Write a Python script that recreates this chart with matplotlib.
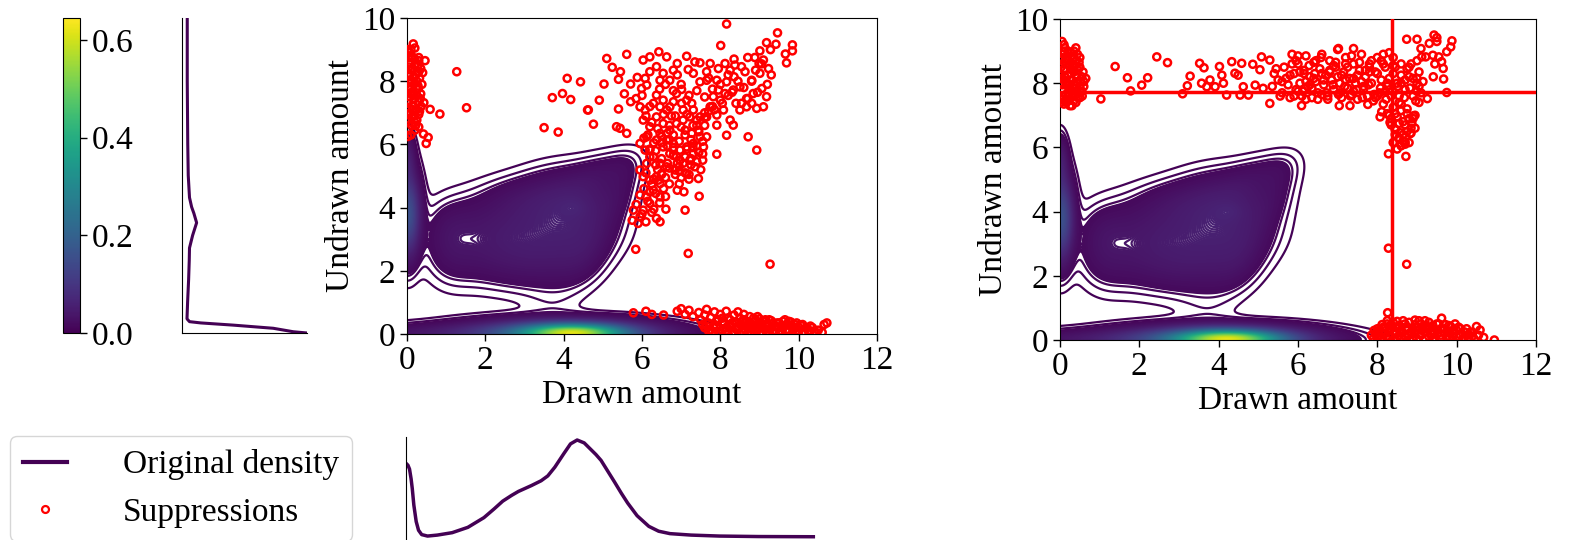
import numpy as np
import matplotlib
matplotlib.use("Agg")
import matplotlib.pyplot as plt
from matplotlib.colors import Normalize
from matplotlib.cm import ScalarMappable
from matplotlib.lines import Line2D

plt.rcParams['font.family'] = ['Liberation Serif', 'DejaVu Serif']
plt.rcParams['font.size'] = 24

# ---------------- data ----------------
# Gaussian-mixture description of the "original density" (KDE look-alike)
comp_mx  = [4.25, 4.0, 2.0, 0.0, 0.0,
            1.1, 1.1, 1.9, 1.9, 2.8, 2.8, 2.8, 3.7, 3.7, 3.7, 4.5, 4.5, 4.5, 4.9, 5.4, 5.5,
            4.3, 3.3, 3.7]
comp_my  = [0.0, 0.0, 0.0, 3.8, 5.6,
            2.6, 3.4, 2.5, 3.5, 2.4, 3.4, 4.3, 2.3, 3.3, 4.3, 2.5, 3.4, 4.4, 5.1, 4.5, 5.3,
            4.0, 3.6, 0.95]
comp_sx  = [0.85, 1.5, 2.5, 0.2, 0.12,
            0.45, 0.45, 0.65, 0.65, 0.65, 0.65, 0.65, 0.65, 0.65, 0.65, 0.45, 0.65, 0.65, 0.5,
            0.4, 0.35, 0.25, 1.8, 0.5]
comp_sy  = [0.18, 0.27, 0.2, 0.85, 0.5,
            0.7, 0.6, 0.65, 0.65, 0.65, 0.65, 0.45, 0.65, 0.65, 0.6, 0.65, 0.65, 0.6, 0.45,
            0.7, 0.4, 0.2, 1.3, 0.4]
comp_rho = [0.0, 0.0, 0.0, 0.0, 0.0,
            0.0, 0.0, 0.0, 0.0, 0.0, 0.0, 0.0, 0.0, 0.0, 0.0, 0.3, 0.0, 0.0, 0.4, 0.6, 0.3,
            0.0, 0.4, 0.0]
comp_amp = [0.40, 0.20, 0.035, 0.16, 0.04,
            0.014, 0.012, 0.015, 0.015, 0.017, 0.018, 0.012, 0.018, 0.021, 0.021, 0.016, 0.022,
            0.022, 0.012, 0.011, 0.007,
            0.007, 0.002, 0.004]
density_max = 0.645

# marginal densities (relative)
margx_x = [0.0, 0.05, 0.09, 0.13, 0.16, 0.2, 0.26, 0.32, 0.4, 0.55, 0.8, 1.18, 1.58, 1.99,
           2.25, 2.47, 2.7, 2.87, 3.2, 3.45, 3.62, 3.8, 4.03, 4.2, 4.37, 4.55, 4.70, 4.85,
           4.98, 5.15, 5.32, 5.5, 5.66, 5.9, 6.2, 6.45, 6.74, 7.28, 8.0, 9.0, 10.4]
margx_v = [0.76, 0.74, 0.70, 0.60, 0.50, 0.33, 0.16, 0.07, 0.025, 0.01, 0.02, 0.045, 0.10,
           0.20, 0.29, 0.37, 0.43, 0.47, 0.53, 0.58, 0.63, 0.72, 0.86, 0.96, 1.0, 0.97, 0.91,
           0.85, 0.79, 0.68, 0.57, 0.45, 0.35, 0.22, 0.11, 0.06, 0.035, 0.02, 0.01, 0.005, 0.003]
margy_y = [0.0, 0.04, 0.15, 0.25, 0.32, 0.36, 0.45, 1.0, 1.7, 2.3, 2.7, 3.1, 3.5, 3.8,
           4.0, 4.3, 5.0, 6.0, 7.0, 8.0, 9.0, 10.0]
margy_v = [1.0, 0.89, 0.73, 0.41, 0.15, 0.06, 0.04, 0.045, 0.053, 0.058, 0.06, 0.085, 0.117,
           0.095, 0.077, 0.06, 0.05, 0.046, 0.044, 0.042, 0.042, 0.042]

# suppressions, panel 1: upper-right cloud
p1_cloud_x = [8.16, 9.46, 8.01, 9.84, 9.84, 9.66, 9.69, 9.42, 9.18, 9.28, 9.01, 8.88, 9.10, 9.23,
              8.99, 5.61, 5.10, 5.24, 5.45, 5.40, 4.09, 4.43, 5.03, 3.97, 4.18, 4.91, 4.63, 4.76,
              5.40, 5.71, 5.71, 5.88, 6.08, 6.03, 6.20, 6.43, 6.63, 6.90, 7.14, 7.35, 7.48, 7.65,
              7.95, 8.12, 8.37, 8.54, 8.63, 8.35, 8.16, 8.50, 8.33, 8.12, 7.95, 7.82, 7.65, 7.48,
              7.31, 7.18, 7.01, 6.71, 6.54, 6.37, 6.20, 6.12, 5.99, 5.95, 6.08, 6.29, 6.46, 6.63,
              6.80, 7.01, 7.14, 7.31, 7.48, 7.65, 7.91, 8.08, 8.25, 8.50, 8.67, 8.80, 8.93, 9.10,
              9.18, 9.06, 8.84, 8.67, 8.54, 7.91, 8.16, 8.33, 8.71, 8.93, 7.91, 7.55, 7.44, 7.46,
              7.07, 7.10, 6.61, 6.37, 6.46, 5.84, 7.18, 9.27, 6.03, 6.20, 6.37, 6.54, 6.71, 6.88,
              7.05, 7.22, 7.40, 6.46, 6.63, 6.80, 6.97, 7.14, 7.31, 7.48, 6.71, 6.88, 7.05, 7.22,
              7.35, 7.14, 6.97, 6.80, 6.54, 6.37, 6.20, 6.29, 6.46, 6.12, 5.95, 6.03, 6.20, 6.37,
              6.46, 6.29, 6.12, 6.20, 6.03, 5.95, 5.78, 6.46, 6.63, 6.84, 7.31, 7.57, 7.65, 7.44,
              7.27, 6.12, 5.95, 5.35, 5.44, 5.61, 6.50, 6.42, 6.08, 6.71, 6.54, 6.37, 7.05, 7.27,
              6.88, 7.74, 9.01, 8.80, 7.91, 8.25, 7.74, 6.80, 6.46, 3.50, 3.71, 3.86, 4.61,
              6.10, 6.25, 6.40, 6.55, 6.70, 6.85, 7.00, 7.15, 7.30, 7.45, 7.60, 6.15, 6.30, 6.50,
              6.65, 6.80, 6.95, 7.10, 7.25, 7.40, 7.55, 6.20, 6.35, 6.50, 6.65, 6.80, 6.95, 7.10,
              7.25, 7.40, 7.20, 7.00, 6.85, 6.60, 6.40, 6.25, 6.05, 5.95, 6.35, 6.15, 6.55, 6.70,
              5.85, 6.00, 5.90, 6.10, 6.25, 5.75, 7.60, 7.80, 8.00, 8.20, 8.40, 8.60, 8.80, 8.45,
              8.20, 8.00, 7.80, 7.60, 7.40, 7.20, 7.00, 6.80, 6.60, 6.90, 6.45, 8.90, 9.05, 8.70,
              6.20, 6.00, 5.85, 5.55, 7.70, 8.70, 8.95, 9.20, 9.30, 8.35,
              6.05, 6.20, 6.35, 6.50, 6.65, 6.80, 6.95, 7.10, 7.25, 7.40, 7.55, 7.70, 6.10, 6.30,
              6.50, 6.70, 6.90, 7.10, 7.30, 7.50, 6.20, 6.45, 6.70, 6.95, 7.20, 7.45, 6.30, 6.60,
              6.90, 7.15, 6.75, 7.60, 7.85, 8.05, 8.30]
p1_cloud_y = [9.81, 9.53, 9.13, 9.15, 8.96, 8.86, 8.58, 9.17, 9.22, 9.00, 8.96, 8.75, 8.67, 8.40,
              8.56, 8.85, 8.72, 8.44, 8.30, 8.06, 8.09, 7.98, 7.91, 7.61, 7.42, 7.40, 7.09, 6.64,
              7.12, 7.35, 7.91, 8.12, 8.09, 8.67, 8.77, 8.93, 8.77, 8.56, 8.79, 8.61, 8.58, 8.30,
              8.40, 8.56, 8.51, 8.46, 8.30, 8.14, 7.98, 7.82, 7.72, 7.61, 7.72, 7.51, 8.03, 7.98,
              8.25, 8.37, 7.74, 8.03, 8.25, 8.46, 8.30, 7.88, 7.77, 7.19, 7.09, 7.30, 7.19, 7.09,
              7.35, 7.30, 7.40, 7.09, 6.87, 6.87, 6.93, 7.09, 6.77, 7.09, 7.19, 7.30, 7.14, 7.19,
              7.51, 7.77, 7.61, 7.45, 7.30, 6.61, 6.29, 6.61, 6.24, 5.82, 5.69, 5.50, 4.92, 4.36,
              4.50, 3.92, 3.95, 3.66, 3.55, 2.68, 2.55, 2.21, 6.77, 6.56, 6.87, 6.66, 6.45, 6.66,
              6.77, 6.87, 6.77, 6.35, 6.14, 6.03, 5.82, 5.92, 6.03, 6.24, 5.71, 5.61, 5.40, 5.50,
              5.29, 5.08, 5.50, 5.82, 5.92, 6.14, 5.82, 5.61, 5.40, 5.40, 5.19, 4.98, 4.87, 4.98,
              4.76, 4.55, 4.34, 4.13, 3.92, 3.71, 3.92, 4.34, 5.29, 5.19, 5.71, 5.92, 6.24, 6.45,
              6.35, 6.24, 6.03, 6.56, 6.51, 6.35, 5.08, 4.87, 5.82, 7.19, 7.40, 7.56, 7.09, 7.30,
              7.61, 7.19, 8.25, 8.03, 8.03, 8.35, 8.56, 8.35, 8.03, 6.53, 7.48, 6.39, 7.09,
              6.90, 6.70, 6.50, 6.95, 6.60, 6.90, 6.55, 6.95, 6.60, 6.40, 6.60, 6.30, 6.05, 6.25,
              5.95, 6.30, 6.10, 6.30, 6.15, 5.95, 5.70, 5.60, 5.80, 5.55, 5.40, 5.65, 5.30, 5.60,
              5.35, 5.45, 5.05, 4.95, 5.05, 4.95, 5.20, 4.75, 4.60, 4.40, 4.45, 4.20, 4.60, 4.75,
              4.10, 3.80, 3.50, 3.55, 3.85, 3.60, 7.00, 7.20, 7.40, 7.55, 7.30, 7.80, 8.00, 8.00,
              8.20, 7.90, 7.75, 7.50, 7.70, 7.55, 7.90, 7.70, 7.90, 8.20, 7.75, 8.35, 8.55, 8.75,
              7.20, 7.55, 7.45, 7.60, 8.10, 7.45, 7.65, 7.90, 8.20, 8.70,
              6.20, 5.85, 5.35, 5.05, 6.35, 5.90, 5.15, 6.45, 5.55, 6.60, 6.10, 7.05, 5.10, 4.90,
              6.05, 6.15, 5.40, 5.10, 5.90, 5.20, 4.50, 4.15, 5.25, 4.75, 4.90, 5.75, 3.95, 4.35,
              4.55, 5.85, 6.90, 6.85, 7.10, 7.30, 7.65]
# panel 1: left strip
p1_left_x = [0.16, 0.46, 0.40, 0.29, 0.43, 0.59, 0.84, 1.52, 1.27, 0.42, 0.54, 0.49, 0.25,
             0.05, 0.12, 0.20, 0.08, 0.28, 0.15, 0.05, 0.22, 0.32, 0.10, 0.18, 0.04, 0.26, 0.12,
             0.35, 0.07, 0.20, 0.30, 0.03, 0.14, 0.25, 0.08, 0.18, 0.05, 0.30, 0.12, 0.04, 0.20,
             0.10, 0.25, 0.15, 0.06, 0.02, 0.30, 0.38, 0.36, 0.12,
             0.10, 0.22, 0.30, 0.05, 0.18, 0.35, 0.08, 0.28, 0.15, 0.25, 0.05, 0.32, 0.20, 0.10,
             0.30, 0.05, 0.03, 0.10, 0.18, 0.26, 0.34, 0.06, 0.14, 0.22, 0.30, 0.02, 0.10, 0.20]
p1_left_y = [9.18, 8.65, 8.27, 7.77, 7.32, 7.11, 6.96, 7.16, 8.30, 6.33, 6.22, 6.03, 6.77,
             8.90, 8.80, 8.70, 8.55, 8.50, 8.40, 8.25, 8.20, 8.10, 8.05, 7.90, 7.80, 7.75, 7.65,
             7.60, 7.50, 7.45, 7.35, 7.30, 7.20, 7.10, 7.00, 6.90, 6.80, 6.95, 6.60, 6.50, 6.45,
             8.35, 8.00, 7.10, 8.60, 9.00, 8.30, 7.90, 7.20, 6.85,
             8.75, 8.55, 8.75, 8.45, 8.10, 8.40, 7.95, 7.85, 7.55, 7.55, 7.15, 7.05, 6.70, 6.30,
             6.55, 6.95, 7.40, 7.75, 7.60, 8.30, 7.45, 8.15, 6.90, 6.60, 8.65, 6.25, 9.00, 9.05]
# panel 1: bottom cluster
p1_bottom_x = [5.78, 6.10, 6.25, 6.55, 6.90, 7.00, 7.10, 7.20, 7.30, 7.45, 7.50, 7.60, 7.70,
               7.75, 7.85, 7.90, 7.95, 8.00, 8.05, 8.10, 8.15, 8.20, 8.25, 8.30, 8.35, 8.40, 8.45,
               8.50, 8.55, 8.60, 8.65, 8.70, 8.75, 8.80, 8.85, 8.90, 8.95, 9.00, 9.05, 9.10, 9.15,
               9.20, 9.30, 9.35, 9.40, 9.50, 9.55, 9.60, 9.70, 9.75, 9.80, 9.90, 10.00, 10.05,
               10.15, 10.20, 10.30, 10.40, 10.50, 10.65, 10.72, 8.00, 8.50, 9.00, 9.50, 10.00,
               8.25, 8.60, 8.95, 9.25, 9.65, 7.65, 8.45,
               7.80, 7.90, 8.05, 8.15, 8.20, 8.30, 8.40, 8.50, 8.60, 8.70, 8.75, 8.85, 8.90, 9.00,
               9.05, 9.15, 9.20, 9.25, 9.30, 9.40, 9.45, 9.55, 9.60, 9.70, 9.75, 9.85, 9.90, 10.00,
               10.10, 10.25, 10.35, 10.45, 10.60, 7.60, 7.70, 7.55,
               7.65, 7.75, 7.85, 7.95, 8.05, 8.15, 8.25, 8.35, 8.45, 8.55, 8.65, 8.75, 8.85, 8.95,
               9.05, 9.15, 9.25, 9.35, 9.45, 9.55, 9.65, 9.75, 9.85, 9.95, 10.10, 10.30]
p1_bottom_y = [0.67, 0.72, 0.62, 0.60, 0.72, 0.80, 0.62, 0.75, 0.55, 0.68, 0.45, 0.60, 0.35,
               0.52, 0.70, 0.25, 0.45, 0.62, 0.12, 0.35, 0.72, 0.50, 0.22, 0.05, 0.60, 0.38, 0.15,
               0.50, 0.28, 0.05, 0.42, 0.18, 0.55, 0.30, 0.08, 0.45, 0.20, 0.36, 0.05, 0.40, 0.15,
               0.28, 0.42, 0.10, 0.25, 0.35, 0.05, 0.18, 0.30, 0.08, 0.38, 0.20, 0.10, 0.28,
               0.05, 0.18, 0.10, 0.03, 0.12, 0.30, 0.35, 0.00, 0.00, 0.00, 0.00, 0.00,
               0.45, 0.62, 0.55, 0.05, 0.45, 0.78, 0.70,
               0.05, 0.40, 0.50, 0.20, 0.00, 0.35, 0.15, 0.30, 0.45, 0.00, 0.25, 0.50, 0.12, 0.48,
               0.22, 0.30, 0.00, 0.45, 0.22, 0.05, 0.35, 0.25, 0.40, 0.15, 0.30, 0.05, 0.30, 0.22,
               0.02, 0.08, 0.20, 0.05, 0.05, 0.20, 0.10, 0.30,
               0.25, 0.12, 0.30, 0.08, 0.38, 0.10, 0.30, 0.02, 0.25, 0.40, 0.12, 0.38, 0.28, 0.12,
               0.30, 0.45, 0.15, 0.35, 0.20, 0.10, 0.28, 0.40, 0.15, 0.35, 0.30, 0.25]

# suppressions, panel 2: left strip
p2_left_x = [0.05, 0.12, 0.20, 0.08, 0.30, 0.15, 0.40, 0.05, 0.25, 0.50, 0.10, 0.35, 0.20, 0.55,
             0.05, 0.30, 0.45, 0.15, 0.60, 0.25, 0.05, 0.40, 0.15, 0.30, 0.05, 0.20, 0.40, 0.10,
             0.30, 0.50, 0.12, 0.22, 0.35, 0.45, 0.02, 0.50, 0.65, 0.38, 0.08, 0.28,
             0.10, 0.18, 0.35, 0.48, 0.10, 0.28, 0.42, 0.58, 0.15, 0.35, 0.55, 0.22, 0.45, 0.12,
             0.35, 0.25, 0.02, 0.60, 0.05, 0.40,
             0.03, 0.12, 0.20, 0.28, 0.36, 0.44, 0.52, 0.06, 0.16, 0.24, 0.32, 0.40, 0.48, 0.56,
             0.02, 0.10, 0.20, 0.30, 0.40, 0.50]
p2_left_y = [9.30, 9.10, 9.00, 8.90, 8.85, 8.75, 8.70, 8.60, 8.55, 8.50, 8.40, 8.35, 8.25, 8.20,
             8.15, 8.10, 8.00, 7.95, 8.05, 7.85, 7.80, 7.75, 7.65, 7.60, 7.50, 7.45, 7.40, 7.35,
             7.30, 7.55, 8.20, 8.70, 9.00, 8.40, 8.00, 7.90, 8.15, 8.55, 7.60, 8.95,
             9.20, 8.85, 8.80, 8.65, 8.45, 8.30, 8.20, 8.35, 8.05, 7.95, 7.75, 7.70, 7.55, 7.45,
             7.45, 7.30, 7.40, 7.90, 8.75, 9.10,
             8.50, 8.10, 7.60, 8.45, 7.85, 8.90, 8.05, 7.95, 7.40, 8.60, 8.40, 7.65, 8.50, 7.60,
             8.80, 9.00, 8.00, 7.75, 8.05, 8.80]
# panel 2: horizontal band
p2_band_x = [1.03, 1.39, 1.70, 1.78, 2.06, 2.21, 2.44, 2.71, 3.09, 3.21, 3.28, 3.52, 3.63, 3.57,
             3.70, 3.78, 3.91, 4.02, 4.08, 4.12, 4.20, 4.33, 4.41, 4.49, 4.58, 4.54, 4.75, 4.62,
             4.86, 4.92, 5.04, 5.08, 5.12, 5.29, 5.29,
             5.85, 5.90, 5.95, 6.00, 6.05, 6.10, 6.15, 6.20, 6.25, 6.30, 6.35, 6.40, 6.45, 6.50,
             6.55, 6.60, 6.65, 6.70, 6.75, 6.80, 6.85, 6.90, 6.95, 7.00, 7.05, 7.10, 7.15, 7.20,
             7.25, 7.30, 7.35, 7.40, 7.45, 7.50, 7.55, 7.60, 7.65, 7.70, 7.75, 7.80, 7.85, 7.90,
             7.95, 8.00, 8.05, 8.10, 8.15, 8.20, 8.25, 8.30, 8.35, 8.40, 8.45, 8.50, 8.55, 8.60,
             8.65, 8.70, 8.75, 8.80, 8.85, 8.90, 8.95, 9.00, 9.05, 8.55, 8.75, 8.90, 8.30, 8.35,
             8.60, 8.80,
             6.09, 7.04, 7.31, 7.76, 7.40, 7.02, 8.74, 9.00, 9.43, 9.50, 9.88, 9.85, 9.75, 9.50,
             9.31, 9.12, 9.10, 9.22, 9.40, 9.45, 9.62, 9.66, 9.55, 9.41, 9.67, 9.75, 9.26, 9.00,
             9.05, 8.28, 8.72, 8.57, 8.70, 8.83, 8.07, 8.11, 8.32, 8.87, 8.91, 8.28, 8.74,
             5.50, 5.60, 5.65, 5.75, 5.80, 5.90, 5.95, 6.05, 6.12, 6.20, 6.28, 6.35, 6.42, 6.50,
             6.58, 6.65, 6.72, 6.80, 6.88, 6.95, 7.02, 7.10, 7.18, 7.25, 7.32, 7.40, 7.48, 7.55,
             7.62, 7.70, 7.78, 7.85, 7.92, 8.00, 8.08, 8.15, 8.22, 8.30, 8.38, 8.45, 8.52, 8.60,
             8.68, 8.75, 8.82, 8.90, 8.97, 9.05, 8.40, 8.50, 8.60, 8.70, 8.80, 8.45, 8.65, 8.95,
             9.10, 9.15, 8.25, 8.15,
             5.35, 5.45, 5.55, 5.70, 5.85, 6.00, 6.15, 6.30, 6.45, 6.60, 6.75, 6.90, 7.05, 7.20,
             7.35, 7.50, 7.65, 7.80, 7.95, 8.10, 8.25, 8.40, 8.55, 8.70, 8.85, 9.00,
             5.40, 5.60, 5.80, 6.00, 6.20, 6.40, 6.60, 6.80, 7.00, 7.20, 7.40, 7.60, 7.80, 8.00,
             8.20, 8.40, 8.60, 8.80, 9.00, 8.35, 8.45, 8.55, 8.65, 8.75, 8.85, 8.50, 8.70, 8.40,
             8.60]
p2_band_y = [7.51, 8.52, 8.17, 7.76, 7.94, 8.17, 8.82, 8.64, 7.67, 7.92, 8.22, 8.62, 8.48, 8.00,
             7.89, 8.10, 7.89, 8.52, 8.25, 8.00, 7.63, 8.67, 8.31, 8.25, 8.62, 7.63, 7.63, 7.89,
             8.59, 7.94, 8.42, 8.82, 7.84, 7.37, 8.72,
             8.90, 8.30, 7.80, 8.60, 8.00, 7.60, 8.40, 8.85, 7.90, 8.20, 7.55, 8.65, 8.05, 7.70,
             8.45, 8.90, 7.95, 8.25, 7.60, 8.70, 8.10, 7.80, 8.50, 9.05, 8.00, 7.55, 8.35, 8.80,
             7.85, 8.15, 7.65, 8.60, 8.00, 7.50, 8.40, 8.90, 7.80, 8.20, 7.60, 8.60, 8.00, 7.45,
             8.35, 8.80, 7.70, 8.10, 7.35, 8.50, 7.90, 8.95, 7.60, 8.30, 7.05, 8.00, 7.40, 8.60,
             6.80, 7.80, 7.20, 8.20, 6.60, 7.60, 7.00, 8.00, 7.40, 6.30, 6.50, 6.90, 7.00, 6.70,
             6.05, 6.15,
             7.30, 7.30, 7.30, 7.34, 9.08, 9.08, 9.37, 9.37, 9.50, 9.42, 9.32, 9.13, 8.98, 9.30,
             9.24, 8.82, 9.08, 8.82, 8.87, 8.60, 8.67, 8.46, 8.82, 8.20, 8.13, 7.71, 7.52, 8.15,
             7.90, 5.80, 5.72, 6.46, 6.17, 6.43, 6.95, 7.11, 6.78, 6.75, 6.98, 2.86, 2.36,
             8.10, 7.70, 8.50, 7.95, 8.25, 7.60, 8.70, 8.35, 7.75, 8.05, 8.55, 7.85, 8.30, 7.50,
             8.80, 8.10, 7.70, 8.40, 7.95, 8.65, 7.65, 8.25, 7.90, 8.50, 7.60, 8.15, 7.80, 8.65,
             7.55, 8.40, 7.95, 8.70, 7.65, 8.30, 7.85, 8.60, 7.50, 8.15, 7.75, 8.50, 7.90, 8.25,
             7.55, 8.45, 7.85, 8.15, 7.45, 8.35, 7.25, 6.95, 7.15, 6.70, 6.90, 6.55, 6.40, 6.60,
             7.70, 8.05, 7.05, 8.90,
             7.90, 8.45, 7.60, 8.15, 8.60, 7.75, 8.30, 7.95, 8.70, 8.30, 7.50, 8.55, 7.70, 8.10,
             8.85, 8.25, 7.90, 8.50, 7.55, 8.70, 8.00, 8.80, 7.60, 8.10, 8.60, 7.75,
             8.30, 8.05, 7.55, 8.85, 7.50, 8.15, 7.65, 8.35, 8.20, 8.60, 7.75, 8.05, 8.35, 7.60,
             7.75, 8.55, 8.00, 8.50, 8.70, 6.90, 6.40, 6.75, 6.20, 7.05, 6.45, 5.95, 6.10, 6.15,
             7.35]
# panel 2: bottom cluster
p2_bottom_x = [8.26, 7.90, 7.95, 8.00, 8.05, 8.10, 8.15, 8.20, 8.25, 8.30, 8.35, 8.40, 8.45, 8.50,
               8.55, 8.60, 8.65, 8.70, 8.75, 8.80, 8.85, 8.90, 8.95, 9.00, 9.05, 9.10, 9.15, 9.20,
               9.25, 9.30, 9.35, 9.40, 9.45, 9.50, 9.55, 9.60, 9.62, 9.70, 9.75, 9.80, 9.85, 9.90,
               9.96, 10.00, 10.10, 10.20, 10.30, 10.40, 10.50, 10.59, 10.68, 10.95, 8.40, 8.90,
               9.40, 9.90, 10.30, 8.00,
               7.85, 8.00, 8.10, 8.20, 8.30, 8.45, 8.55, 8.60, 8.70, 8.80, 8.90, 9.00, 9.10, 9.20,
               9.30, 9.40, 9.50, 9.60, 9.70, 9.80, 9.90, 10.00, 10.10, 10.20, 10.35, 10.45, 10.55,
               8.25, 8.50, 8.95, 9.20,
               7.92, 8.02, 8.12, 8.22, 8.32, 8.42, 8.52, 8.62, 8.72, 8.82, 8.92, 9.02, 9.12, 9.22,
               9.32, 9.42, 9.52, 9.62, 9.72, 9.82, 9.92, 10.05, 10.15, 10.25, 10.40]
p2_bottom_y = [0.85, 0.05, 0.20, 0.12, 0.30, 0.05, 0.40, 0.20, 0.50, 0.10, 0.35, 0.55, 0.20, 0.05,
               0.45, 0.30, 0.60, 0.12, 0.40, 0.55, 0.25, 0.05, 0.48, 0.30, 0.60, 0.15, 0.42, 0.05,
               0.35, 0.55, 0.20, 0.45, 0.08, 0.30, 0.50, 0.15, 0.68, 0.35, 0.05, 0.25, 0.42, 0.10,
               0.50, 0.30, 0.15, 0.25, 0.05, 0.12, 0.42, 0.31, 0.08, 0.00, 0.00, 0.00,
               0.00, 0.00, 0.18, 0.35,
               0.15, 0.05, 0.25, 0.40, 0.30, 0.40, 0.15, 0.05, 0.50, 0.15, 0.35, 0.05, 0.50, 0.25,
               0.10, 0.30, 0.50, 0.35, 0.20, 0.45, 0.30, 0.10, 0.35, 0.08, 0.25, 0.02, 0.15,
               0.60, 0.58, 0.62, 0.60,
               0.30, 0.22, 0.48, 0.10, 0.45, 0.28, 0.38, 0.22, 0.32, 0.02, 0.22, 0.40, 0.30, 0.45,
               0.38, 0.18, 0.20, 0.05, 0.48, 0.10, 0.20, 0.40, 0.02, 0.35, 0.22]

p2_vline = 8.38
p2_hline = 7.72

p1_x = p1_cloud_x + p1_left_x + p1_bottom_x
p1_y = p1_cloud_y + p1_left_y + p1_bottom_y
p2_x = p2_left_x + p2_band_x + p2_bottom_x
p2_y = p2_left_y + p2_band_y + p2_bottom_y

# ---------------- density field ----------------
gx = np.linspace(0, 12, 481)
gy = np.linspace(0, 10, 401)
GX, GY = np.meshgrid(gx, gy)
Z = np.zeros_like(GX)
for mx, my, sx, sy, r, a in zip(comp_mx, comp_my, comp_sx, comp_sy, comp_rho, comp_amp):
    dx = (GX - mx) / sx
    dy = (GY - my) / sy
    q = (dx ** 2 - 2 * r * dx * dy + dy ** 2) / (1 - r ** 2)
    Z += a * np.exp(-0.5 * q)

norm = Normalize(0, density_max)
levels = np.concatenate([np.linspace(0.004, 0.012, 3),
                         np.linspace(0.0145, 0.12, 240),
                         np.linspace(0.1235, density_max, 260)])
purple = '#440154'

# ---------------- figure ----------------
W, H = 1570, 540
fig = plt.figure(figsize=(W / 100, H / 100), dpi=100)

def ax_px(l, t, r, b):
    return fig.add_axes([l / W, 1 - b / H, (r - l) / W, (b - t) / H])

cax = ax_px(63, 18, 80, 333)
aym = ax_px(182, 18, 307, 333)
ax1 = ax_px(407, 18, 877, 334)
ax2 = ax_px(1060, 19, 1536, 340)
axm = ax_px(406, 437, 876, 551)

# colorbar
cb = fig.colorbar(ScalarMappable(norm=norm, cmap='viridis'), cax=cax)
cb.set_ticks([0.0, 0.2, 0.4, 0.6])
cb.set_ticklabels(['0.0', '0.2', '0.4', '0.6'])
cax.tick_params(labelsize=24, length=5, width=1)

# y marginal
aym.plot(margy_v, margy_y, color=purple, lw=2.2)
aym.set_xlim(0, 1.0)
aym.set_ylim(0, 10)
aym.set_xticks([])
aym.set_yticks([])
for s in ['top', 'right']:
    aym.spines[s].set_visible(False)

# x marginal
axm.plot(margx_x, margx_v, color=purple, lw=2.5)
axm.set_xlim(0, 12)
axm.set_ylim(-0.144, 1.031)
axm.set_xticks([])
axm.set_yticks([])
for s in ['top', 'right']:
    axm.spines[s].set_visible(False)

for ax, px, py in [(ax1, p1_x, p1_y), (ax2, p2_x, p2_y)]:
    ax.contour(GX, GY, Z, levels=levels, cmap='viridis', norm=norm, linewidths=1.6)
    ax.scatter(px, py, s=26, facecolors='none', edgecolors='red', linewidths=1.8, zorder=3)
    ax.set_xlim(0, 12)
    ax.set_ylim(0, 10)
    ax.set_xticks([0, 2, 4, 6, 8, 10, 12])
    ax.set_yticks([0, 2, 4, 6, 8, 10])
    ax.tick_params(labelsize=24, length=5, width=1)
    ax.set_xlabel('Drawn amount', fontsize=24, labelpad=2)
    ax.set_ylabel('Undrawn amount', fontsize=24, labelpad=4)

ax2.axvline(p2_vline, color='red', lw=2.5, zorder=4)
ax2.axhline(p2_hline, color='red', lw=2.5, zorder=4)

handles = [Line2D([0], [0], color=purple, lw=3),
           Line2D([0], [0], marker='o', ls='', mfc='none', mec='red', mew=1.6, ms=5)]
fig.legend(handles, ['Original density', 'Suppressions'], loc='upper left',
           bbox_to_anchor=(10 / W, 1 - 436 / H), fontsize=24, handlelength=1.3,
           handletextpad=1.68, borderpad=0.4, labelspacing=0.5, borderaxespad=0)

fig.savefig('out.png', dpi=100)
